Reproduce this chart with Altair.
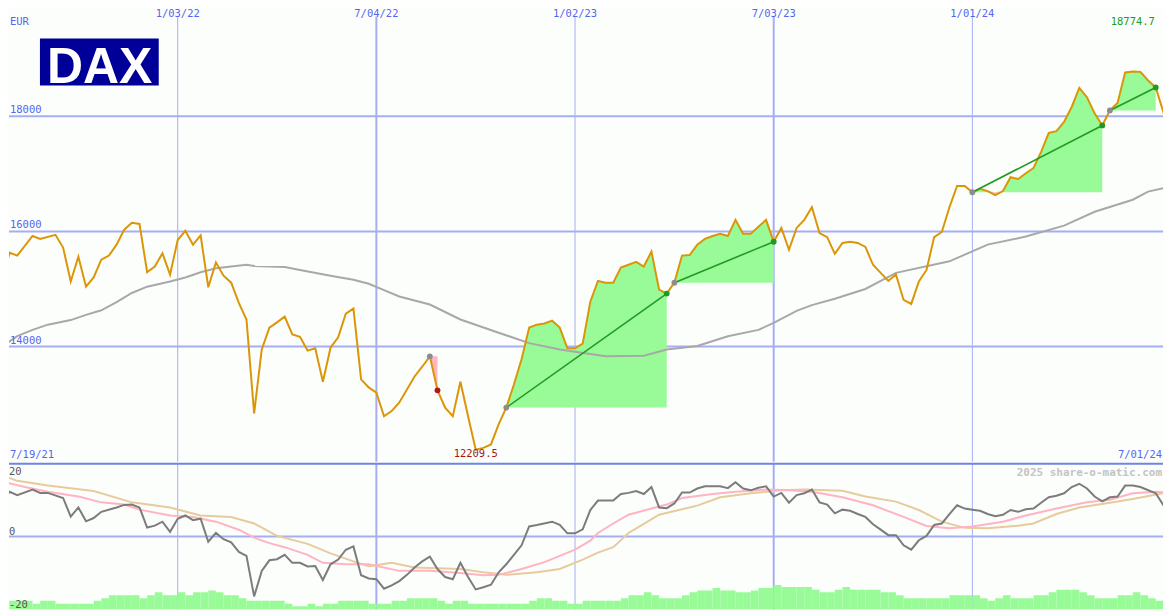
import altair as alt
import pandas as pd

# ---------------- data (weeks counted from 2021-07-19 = week 0) ----------------
price_weeks = [1, 2, 3, 5, 6, 8, 9, 10, 11, 12,
               13, 14, 15, 16, 17, 18, 19, 20, 21, 22,
               23, 24, 25, 26, 27, 28, 29, 30, 31, 32,
               33, 34, 35, 36, 37, 38, 39, 40, 41, 42,
               43, 44, 45, 46, 47, 48, 49, 50, 51, 52,
               53, 55, 56, 57, 58, 59, 60, 61, 62, 63,
               64, 65, 66, 67, 68, 69, 70, 71, 72, 73,
               74, 75, 76, 77, 78, 79, 80, 81, 82, 83,
               84, 85, 86, 87, 88, 89, 90, 91, 92, 93,
               94, 95, 96, 97, 98, 99, 100, 101, 102, 103,
               104, 105, 106, 107, 108, 109, 110, 111, 112, 113,
               114, 115, 116, 117, 118, 119, 120, 121, 122, 123,
               124, 125, 126, 127, 128, 129, 130, 131, 132, 133,
               134, 135, 136, 137, 138, 139, 140, 141, 142, 143,
               144, 145, 146, 147, 148, 149, 150, 151, 152, 153,
               154]
price_values = [15130, 15630, 15580, 15920, 15870, 15940, 15720, 15130, 15560, 15040,
                15200, 15510, 15580, 15770, 16030, 16150, 16130, 15290, 15390, 15620,
                15250, 15850, 16010, 15770, 15930, 15030, 15460, 15230, 15110, 14760,
                14470, 12840, 13950, 14330, 14420, 14520, 14210, 14170, 13930, 13970,
                13390, 13980, 14160, 14570, 14660, 13430, 13290, 13200, 12790, 12880,
                13030, 13480, 13650, 13830, 13240, 12940, 12790, 13390, 12790, 12209.5,
                12240, 12300, 12650, 12940, 13340, 13780, 14330, 14380, 14400, 14450,
                14330, 13970, 13970, 14050, 14780, 15140, 15110, 15110, 15370, 15420,
                15470, 15390, 15650, 14990, 14920, 15110, 15580, 15590, 15770, 15870,
                15920, 15960, 15920, 16200, 15960, 15960, 16080, 16200, 15820, 16060,
                15680, 16060, 16200, 16420, 15970, 15900, 15610, 15800, 15820, 15800,
                15730, 15420, 15280, 15140, 15250, 14810, 14740, 15130, 15330, 15900,
                15990, 16420, 16790, 16790, 16680, 16740, 16700, 16630, 16700, 16940,
                16910, 17010, 17100, 17380, 17710, 17740, 17900, 18160, 18490, 18330,
                18050, 17840, 18100, 18230, 18760, 18774.7, 18770, 18620, 18500, 18070,
                18300]

ma_weeks = [1, 3, 5, 7, 10, 12, 14, 16, 18, 20, 23, 25, 27, 29, 33, 34, 38, 40, 44, 47,
            49, 51, 53, 57, 61, 66, 70, 74, 80, 85, 88, 92, 96, 100, 102, 105, 107, 110,
            114, 118, 125, 130, 135, 140, 144, 149, 151, 154]
ma_values = [14000, 14180, 14290, 14380, 14460, 14550, 14630, 14770, 14930, 15040,
             15130, 15200, 15290, 15360, 15420, 15400, 15380, 15330, 15230, 15160,
             15090, 14980, 14870, 14730, 14470, 14240, 14060, 13950, 13830, 13840,
             13950, 14010, 14180, 14290, 14410, 14620, 14720, 14830, 15000, 15280,
             15480, 15770, 15910, 16100, 16340, 16550, 16690, 16780]

osc_weeks = [1, 2, 3, 5, 6, 7, 9, 10, 11, 12, 13, 14, 16, 17, 18, 19, 20, 21, 22, 23,
             24, 25, 26, 27, 28, 29, 30, 31, 32, 33, 34, 35, 36, 37, 38, 39, 40, 41, 42, 43,
             44, 45, 46, 47, 48, 49, 50, 51, 52, 53, 54, 55, 56, 57, 58, 59, 60, 61, 62, 63,
             64, 65, 66, 67, 68, 69, 70, 71, 73, 74, 75, 76, 77, 78, 79, 80, 81, 82, 83, 84,
             85, 86, 87, 88, 89, 90, 91, 92, 93, 95, 96, 97, 98, 99, 100, 101, 102, 103, 104, 105,
             106, 107, 108, 109, 110, 111, 112, 113, 114, 115, 116, 117, 118, 119, 120, 121, 122, 123, 124, 125,
             126, 127, 128, 129, 130, 131, 132, 133, 134, 135, 136, 137, 138, 139, 140, 141, 142, 143, 144, 145,
             146, 147, 148, 149, 150, 152, 153, 154]
osc_values = [9.3, 12.3, 11.4, 12.9, 12.0, 12.0, 10.6, 5.5, 8.0, 4.2, 5.1, 6.8, 8.0, 8.7, 8.8, 8.0, 2.5, 3.0, 4.1, 1.3,
              4.9, 5.8, 4.5, 4.9, -1.4, 1.0, -0.7, -1.6, -4.2, -5.3, -16.4, -9.4, -6.5, -6.2, -5.0, -7.2, -7.2, -8.2, -8.1, -11.9,
              -7.6, -6.3, -3.6, -2.7, -10.6, -11.5, -11.7, -14.3, -13.4, -12.2, -10.5, -8.5, -6.8, -5.5, -8.9, -11.1, -11.7, -7.2, -11.1, -14.5,
              -13.9, -13.2, -9.8, -7.6, -5.0, -2.4, 2.8, 3.2, 4.1, 3.2, 0.9, 0.9, 2.0, 7.3, 9.9, 9.9, 9.9, 11.7, 12.0, 12.5,
              11.7, 13.6, 8.0, 7.8, 9.1, 12.1, 12.1, 13.2, 13.8, 13.8, 13.3, 14.9, 13.2, 12.7, 13.4, 13.8, 11.0, 12.0, 9.3, 11.4,
              11.9, 12.9, 9.4, 8.8, 6.4, 7.4, 7.1, 6.2, 5.4, 3.4, 1.9, 0.4, 0.4, -2.4, -3.6, -1.0, 0.2, 3.2, 3.6, 6.2,
              8.6, 7.7, 7.4, 7.1, 6.2, 5.6, 6.0, 7.3, 6.8, 7.5, 7.7, 9.3, 10.8, 11.2, 11.9, 13.6, 14.5, 13.2, 11.0, 9.7,
              10.8, 11.0, 14.0, 14.0, 13.6, 11.9, 8.6, 9.7]

pink_weeks = [1, 4, 7, 11, 14, 17, 19, 23, 26, 29, 32, 34, 36, 38, 41, 43, 46, 49, 53, 57,
              61, 64, 66, 69, 72, 74, 76, 78, 79, 81, 83, 86, 88, 90, 94, 97, 101, 104, 107, 111,
              115, 119, 122, 125, 128, 132, 135, 139, 143, 146, 149, 152, 154]
pink_values = [15.1, 13.6, 12.3, 11.0, 9.4, 8.8, 7.4, 5.8, 5.4, 4.1, 1.9, -0.3, -1.8, -2.9, -5.0, -7.2, -7.6, -7.6, -9.4, -9.4,
               -10.0, -10.6, -10.5, -8.9, -7.0, -5.3, -3.6, -1.1, 1.0, 3.6, 6.0, 7.7, 8.8, 10.6, 11.7, 12.3, 12.9, 12.7, 12.3, 10.8,
               8.6, 5.4, 2.9, 2.3, 2.8, 4.1, 5.8, 7.7, 9.4, 10.1, 11.9, 12.3, 12.0]

tan_weeks = [1, 3, 7, 13, 18, 23, 27, 31, 34, 37, 41, 44, 47, 49, 52, 55, 61, 64, 67, 71,
             74, 77, 79, 81, 83, 85, 87, 90, 92, 95, 99, 103, 106, 111, 114, 118, 121, 124, 127, 130,
             134, 136, 139, 142, 146, 149, 154]
tan_values = [16.8, 15.3, 14.0, 12.5, 9.4, 8.0, 5.8, 5.4, 3.6, 0.2, -2.0, -4.6, -6.8, -8.1, -7.2, -8.5, -8.9, -9.8, -10.5, -9.8,
              -8.9, -6.3, -4.4, -2.9, 1.0, 3.5, 6.0, 7.5, 8.5, 10.8, 11.9, 12.7, 12.9, 12.6, 11.0, 9.6, 7.3, 4.1, 2.4, 2.3,
              3.0, 3.6, 6.2, 8.0, 9.3, 10.3, 12.3]

# weekly histogram, weeks 0..154
hist_values = [-17.6, -17.6, -17.6, -17.6, -17.6, -18.4, -17.6, -17.6, -18.4, -18.4,
               -18.4, -18.4, -18.4, -17.6, -16.9, -16.1, -16.1, -16.1, -16.1, -16.9,
               -16.1, -15.3, -16.1, -16.1, -15.3, -16.1, -15.3, -15.3, -14.8, -15.3,
               -16.1, -16.1, -16.9, -17.6, -17.6, -17.6, -17.6, -17.6, -18.4, -19.1,
               -19.1, -18.4, -19.1, -18.4, -18.4, -17.6, -17.6, -17.6, -17.6, -18.4,
               -18.4, -18.4, -17.6, -17.6, -16.9, -16.9, -16.9, -16.9, -17.6, -18.4,
               -17.6, -17.6, -18.4, -18.4, -18.4, -18.4, -18.4, -18.4, -18.4, -18.4,
               -17.6, -16.9, -16.9, -17.6, -17.6, -18.4, -18.4, -17.6, -17.6, -17.6,
               -17.6, -17.6, -16.9, -16.1, -16.1, -15.3, -16.1, -16.9, -16.9, -16.9,
               -16.1, -15.3, -14.8, -14.8, -14.1, -14.8, -14.8, -15.3, -15.3, -14.8,
               -14.1, -14.1, -13.3, -13.8, -13.8, -13.8, -13.8, -14.6, -15.3, -15.3,
               -14.6, -13.8, -14.6, -14.6, -14.6, -14.6, -15.3, -15.3, -16.1, -16.9,
               -16.9, -16.9, -16.9, -16.9, -16.9, -16.1, -16.1, -16.1, -16.1, -16.9,
               -17.6, -16.9, -16.1, -16.9, -16.9, -16.9, -16.1, -16.1, -15.3, -14.6,
               -14.6, -14.6, -15.3, -16.1, -16.9, -16.9, -16.9, -16.1, -16.1, -15.3,
               -16.1, -16.9, -17.6, -16.9, -16.9]

# signal segments (start week, end week)
seg_start = [57, 67, 89, 128, 146]
seg_end = [58, 88, 102, 145, 152]

grid_levels = [14000, 16000, 18000]
grid_labels = ["14000", "16000", "18000"]
date_weeks = [24, 50, 76, 102, 128]
date_labels = ["1/03/22", "7/04/22", "1/02/23", "7/03/23", "1/01/24"]
date_widths = [1, 2, 1, 2, 1]
osc_levels = [20, 0, -20]
osc_labels = ["20", "0", "-20"]

# ---------------- styling ----------------
W, H1, H2 = 1156, 454, 146
BG = "#FCFEFC"
BLUE = "#5566EE"
GRID = "#A6AEF2"
SEP = "#7282E6"
ORANGE = "#DA9607"
MAGRAY = "#A8A8A8"
FILLG = "#98FB98"
FILLP = "#FFB6C1"
TREND = "#229922"
FONT = "DejaVu Sans Mono"

xs = alt.Scale(domain=[1.92, 152.95], nice=False, zero=False)
ys_top = alt.Scale(domain=[12000, 19870], nice=False, zero=False)
ys_bot = alt.Scale(domain=[-20, 20], nice=False, zero=False)


def X(field="week"):
    return alt.X(f"{field}:Q", scale=xs, axis=None)


def YT(field="value"):
    return alt.Y(f"{field}:Q", scale=ys_top, axis=None)


def YB(field="value"):
    return alt.Y(f"{field}:Q", scale=ys_bot, axis=None)


price = pd.DataFrame({"week": price_weeks, "value": price_values})
ma = pd.DataFrame({"week": ma_weeks, "value": ma_values})
osc = pd.DataFrame({"week": osc_weeks, "value": osc_values})
pink = pd.DataFrame({"week": pink_weeks, "value": pink_values})
tan = pd.DataFrame({"week": tan_weeks, "value": tan_values})
hist = pd.DataFrame({"week": list(range(len(hist_values))), "value": hist_values})
hist["week2"] = hist["week"] + 1
hist["floor"] = -20
vdf = pd.DataFrame({"week": date_weeks, "label": date_labels, "sw": date_widths})

fill_rows, trend_rows, dot_rows = [], [], []
for k, (s, e) in enumerate(zip(seg_start, seg_end)):
    base = float(price.loc[price.week == s, "value"].iloc[0])
    endv = float(price.loc[price.week == e, "value"].iloc[0])
    sub = price[(price.week >= s) & (price.week <= e)]
    for w, v in zip(sub.week, sub.value):
        fill_rows.append({"seg": k, "week": w, "base": base, "hi": max(v, base), "lo": min(v, base)})
    gain = endv >= base
    if gain:
        trend_rows += [{"seg": k, "week": s, "value": base}, {"seg": k, "week": e, "value": endv}]
    dot_rows.append({"week": s, "value": base, "c": "#8C8C8C"})
    dot_rows.append({"week": e, "value": endv, "c": TREND if gain else "#B01818"})
fills = pd.DataFrame(fill_rows)
trend = pd.DataFrame(trend_rows)
dots = pd.DataFrame(dot_rows)

# ---------------- top panel ----------------
hgrid = alt.Chart(pd.DataFrame({"v": grid_levels})).mark_rule(color=GRID, strokeWidth=2).encode(y=YT("v"))
vgrid_t = alt.Chart(vdf).mark_rule(color=GRID).encode(
    x=X(), y=alt.value(8), y2=alt.value(H1), strokeWidth=alt.StrokeWidth("sw:Q", scale=None))
area_g = alt.Chart(fills).mark_area(color=FILLG, opacity=1, orient="vertical").encode(
    x=X(), y=YT("hi"), y2="base:Q", detail="seg:N")
area_p = alt.Chart(fills).mark_area(color=FILLP, opacity=1, orient="vertical").encode(
    x=X(), y=YT("lo"), y2="base:Q", detail="seg:N")
ma_line = alt.Chart(ma).mark_line(color=MAGRAY, strokeWidth=2, clip=True).encode(x=X(), y=YT())
price_line = alt.Chart(price).mark_line(color=ORANGE, strokeWidth=2, clip=True).encode(x=X(), y=YT())
trend_line = alt.Chart(trend).mark_line(color=TREND, strokeWidth=1.6).encode(x=X(), y=YT(), detail="seg:N")
dot_marks = alt.Chart(dots).mark_circle(size=34, opacity=1).encode(
    x=X(), y=YT(), color=alt.Color("c:N", scale=None))

date_text = alt.Chart(vdf).mark_text(font=FONT, fontSize=10.5, color=BLUE, align="center",
                                     baseline="alphabetic").encode(x=X(), y=alt.value(8.5), text="label:N")
level_text = alt.Chart(pd.DataFrame({"v": grid_levels, "t": grid_labels})).mark_text(
    font=FONT, fontSize=10.5, color=BLUE, align="left", baseline="alphabetic", dy=-3).encode(
    x=alt.value(1), y=YT("v"), text="t:N")
eur_text = alt.Chart(pd.DataFrame({"t": ["EUR"]})).mark_text(
    font=FONT, fontSize=10.5, color=BLUE, align="left", baseline="alphabetic").encode(
    x=alt.value(1), y=alt.value(17), text="t:N")
edge_df = pd.DataFrame({"v": [12000], "a": ["7/19/21"], "b": ["7/01/24"]})
start_text = alt.Chart(edge_df).mark_text(font=FONT, fontSize=10.5, color=BLUE, align="left",
                                          baseline="alphabetic", dy=-4).encode(
    x=alt.value(1), y=YT("v"), text="a:N")
end_text = alt.Chart(edge_df).mark_text(font=FONT, fontSize=10.5, color=BLUE, align="right",
                                        baseline="alphabetic", dy=-4).encode(
    x=alt.value(W - 1), y=YT("v"), text="b:N")
imin = price["value"].idxmin()
imax = price["value"].idxmax()
min_df = pd.DataFrame({"week": [price.week[imin]], "value": [price.value[imin]],
                       "t": [f"{price.value[imin]:.1f}"]})
max_df = pd.DataFrame({"week": [price.week[imax]], "value": [price.value[imax]],
                       "t": [f"{price.value[imax]:.1f}"]})
min_text = alt.Chart(min_df).mark_text(font=FONT, fontSize=10.5, color="#A01818", align="center",
                                       baseline="alphabetic", dy=7).encode(x=X(), y=YT(), text="t:N")
max_text = alt.Chart(max_df).mark_text(font=FONT, fontSize=10.5, color="#229922", align="center",
                                       baseline="alphabetic").encode(x=X(), y=alt.value(17), text="t:N")
logo_box = alt.Chart(pd.DataFrame({"a": [0]})).mark_rect(color="#000099").encode(
    x=alt.value(31), x2=alt.value(150), y=alt.value(30), y2=alt.value(77))
logo_text = alt.Chart(pd.DataFrame({"t": ["DAX"]})).mark_text(
    font="Liberation Sans", fontWeight="bold", fontSize=50, color="white", align="left",
    baseline="alphabetic").encode(x=alt.value(38), y=alt.value(75), text="t:N")

top = alt.layer(hgrid, vgrid_t, area_g, area_p, ma_line, price_line, trend_line, dot_marks,
                date_text, level_text, eur_text, start_text, end_text, min_text, max_text,
                logo_box, logo_text).properties(width=W, height=H1)

# ---------------- bottom panel ----------------
vgrid_b = alt.Chart(vdf).mark_rule(color=GRID).encode(x=X(), strokeWidth=alt.StrokeWidth("sw:Q", scale=None))
zero = alt.Chart(pd.DataFrame({"v": [0]})).mark_rule(color=GRID, strokeWidth=2).encode(y=YB("v"))
sep = alt.Chart(pd.DataFrame({"v": [20]})).mark_rule(color=SEP, strokeWidth=2).encode(y=YB("v"))
hist_bars = alt.Chart(hist).mark_rect(color=FILLG, clip=True).encode(
    x=X(), x2="week2:Q", y=YB(), y2="floor:Q")
tan_line = alt.Chart(tan).mark_line(color="#E6CB9C", strokeWidth=2, clip=True).encode(x=X(), y=YB())
pink_line = alt.Chart(pink).mark_line(color="#FFB3C3", strokeWidth=2, clip=True).encode(x=X(), y=YB())
osc_line = alt.Chart(osc).mark_line(color="#7C7C7C", strokeWidth=2, clip=True).encode(x=X(), y=YB())

osc_text_layers = []
for lvl, lab, off in zip(osc_levels, osc_labels, [11.4, -2, -1.2]):
    osc_text_layers.append(
        alt.Chart(pd.DataFrame({"v": [lvl], "t": [lab]})).mark_text(
            font=FONT, fontSize=10.5, color="#555555", align="left", baseline="alphabetic", dy=off).encode(
            x=alt.value(0), y=YB("v"), text="t:N"))
wm_text = alt.Chart(pd.DataFrame({"t": ["2025 share-o-matic.com"]})).mark_text(
    font=FONT, fontSize=11, fontWeight="bold", color="#C4C4C4", align="right",
    baseline="alphabetic").encode(x=alt.value(W - 1), y=alt.value(12.3), text="t:N")

bottom = alt.layer(vgrid_b, zero, hist_bars, tan_line, pink_line, osc_line, sep, *osc_text_layers,
                   wm_text).properties(width=W, height=H2)

chart = alt.vconcat(top, bottom, spacing=0).resolve_scale(
    x="independent", y="independent").properties(padding=0, background=BG).configure_view(stroke=None)

chart.save("out.html", embed_options={"renderer": "svg", "actions": False})
